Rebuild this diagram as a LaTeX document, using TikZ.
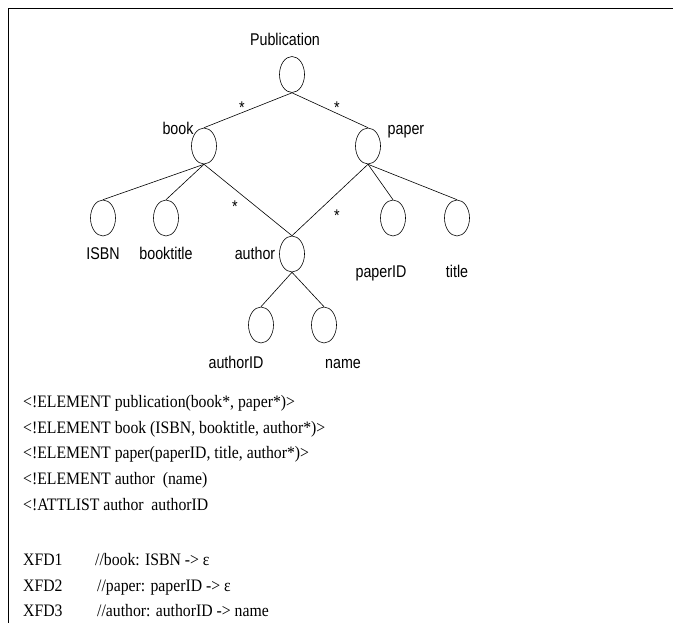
\documentclass[tikz,border=0pt]{standalone}
\usepackage{fontspec}
\setmainfont[FakeStretch=0.9]{Liberation Serif}
\newfontfamily\lblfont[FakeStretch=0.84]{Liberation Sans}
\usetikzlibrary{shapes.geometric}

\begin{document}
\begin{tikzpicture}[x=1pt,y=-1pt,
    elem/.style ={ellipse, draw, line width=0.6pt, inner sep = 0pt, minimum width=25pt, minimum height=36pt},
    lbl/.style ={anchor=base, inner sep=0pt, font=\lblfont\fontsize{17}{20}\selectfont},
    dtd/.style ={anchor=base west, inner sep=0pt, font=\fontsize{17.5}{20}\selectfont}]
   \useasboundingbox (0,0) rectangle (673,623);
   \draw[line width=1.6pt] (8.5,623) -- (8.5,8.5) -- (673,8.5);
   % tree
   \node[elem] (pub) at (292,74.5) {};
   \node[elem] (book) at (204,146) {};
   \node[elem] (paper) at (368,146) {};
   \node[elem] (isbn) at (103,218) {};
   \node[elem] (btitle) at (166,218) {};
   \node[elem] (author) at (292,254) {};
   \node[elem] (pid) at (393,218) {};
   \node[elem] (title) at (457,218) {};
   \node[elem] (aid) at (261,325) {};
   \node[elem] (name) at (324,325) {};
   \node[lbl] (pubL) at (285,46) {Publication};
   \node[lbl] (bookL) at (178,135) {book};
   \node[lbl] (paperL) at (406,135) {paper};
   \node[lbl] (isbnL) at (103,260) {ISBN};
   \node[lbl] (btitleL) at (166,260) {booktitle};
   \node[lbl] (authorL) at (255,260) {author};
   \node[lbl] (pidL) at (381,278) {paperID};
   \node[lbl] (titleL) at (457,278) {title};
   \node[lbl] (aidL) at (236,368) {authorID};
   \node[lbl] (nameL) at (343,368) {name};
   \node[lbl] (s1) at (242,114) {*};
   \node[lbl] (s2) at (337,114) {*};
   \node[lbl] (s3) at (235,213) {*};
   \node[lbl] (s4) at (337,222) {*};
   \draw[line width=0.6pt] (pub.south) -- (book.north);
   \draw[line width=0.6pt] (pub.south) -- (paper.north);
   \draw[line width=0.6pt] (book.south) -- (isbn.north);
   \draw[line width=0.6pt] (book.south) -- (btitle.north);
   \draw[line width=0.6pt] (book.south) -- (author.north);
   \draw[line width=0.6pt] (paper.south) -- (author.north);
   \draw[line width=0.6pt] (paper.south) -- (pid.north);
   \draw[line width=0.6pt] (paper.south) -- (title.north);
   \draw[line width=0.6pt] (author.south) -- (aid.north);
   \draw[line width=0.6pt] (author.south) -- (name.north);
   % DTD and XFDs
   \node[dtd] (d1) at (23,407) {<!ELEMENT publication(book*, paper*)>};
   \node[dtd] (d2) at (23,433) {<!ELEMENT book (ISBN, booktitle, author*)>};
   \node[dtd] (d3) at (23,458) {<!ELEMENT paper(paperID, title, author*)>};
   \node[dtd] (d4) at (23,484) {<!ELEMENT author\ \ (name)};
   \node[dtd] (d5) at (23,510) {<!ATTLIST author\ \ authorID};
   \node[dtd] (x1) at (23,565) {XFD1};
   \node[dtd] (x2) at (23,591) {XFD2};
   \node[dtd] (x3) at (23,616) {XFD3};
   \node[dtd] (f1) at (95,565) {//book: ISBN -> ε};
   \node[dtd] (f2) at (97,591) {//paper: paperID -> ε};
   \node[dtd] (f3) at (97,616) {//author: authorID -> name};
 \end{tikzpicture}
\end{document}
